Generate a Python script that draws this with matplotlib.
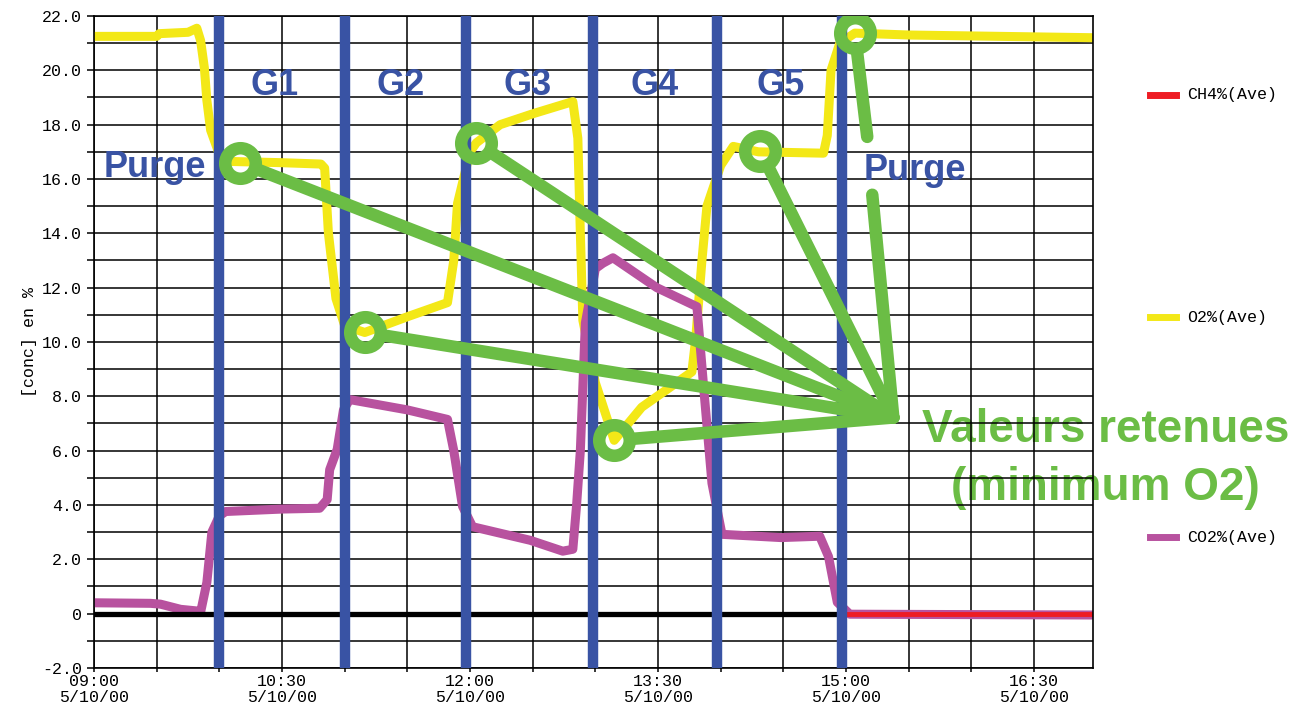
import matplotlib.pyplot as plt
from matplotlib.lines import Line2D
from matplotlib.ticker import FuncFormatter, MultipleLocator

# --- data (time in decimal hours on 5/10/00, concentrations in %)
o2_t = [9.0, 9.5, 9.52, 9.75, 9.82, 9.85, 9.88, 9.90, 9.93, 10.0, 10.05, 10.5,
        10.81, 10.84, 10.87, 10.93, 11.0, 11.16, 11.5, 11.82, 11.87, 11.90, 12.0,
        12.05, 12.24, 12.5, 12.82, 12.86, 12.88, 12.90, 13.0, 13.15, 13.37, 13.77,
        13.80, 13.85, 13.89, 14.0, 14.1, 14.3, 14.82, 14.85, 14.88, 14.95, 15.07,
        15.5, 16.97]
o2_v = [21.25, 21.25, 21.35, 21.4, 21.55, 21.1, 20.1, 18.9, 17.8, 16.9, 16.65,
        16.6, 16.55, 16.4, 14.0, 11.6, 10.6, 10.35, 10.93, 11.45, 13.0, 15.1, 17.0,
        17.33, 18.0, 18.4, 18.85, 17.5, 14.0, 10.8, 8.5, 6.38, 7.6, 8.9, 10.1,
        13.0, 15.0, 16.5, 17.2, 17.0, 16.95, 17.6, 20.0, 21.0, 21.37, 21.3, 21.2]

co2_t = [9.0, 9.45, 9.53, 9.69, 9.82, 9.85, 9.90, 9.94, 10.0, 10.05, 10.5, 10.80,
         10.86, 10.88, 10.94, 10.99, 11.04, 11.5, 11.82, 11.87, 11.94, 12.02,
         12.48, 12.74, 12.82, 12.85, 12.88, 12.92, 13.0, 13.06, 13.14, 13.49,
         13.81, 13.87, 13.93, 14.01, 14.48, 14.79, 14.86, 14.93, 15.03, 16.97]
co2_v = [0.4, 0.38, 0.35, 0.16, 0.1, 0.05, 1.15, 3.0, 3.6, 3.76, 3.85, 3.88, 4.2,
         5.3, 6.05, 7.5, 7.88, 7.5, 7.15, 6.0, 3.95, 3.2, 2.7, 2.3, 2.37, 4.0, 6.0,
         10.7, 12.7, 12.9, 13.1, 12.0, 11.3, 8.0, 4.8, 2.92, 2.8, 2.85, 2.1, 0.42,
         -0.02, -0.05]

ch4_t = [9.0, 16.97]
ch4_v = [0.0, 0.0]
# black baseline trace drawn over CH4 until the end of G5
base_t = [9.0, 14.97]
base_v = [0.0, 0.0]

# gas switch times (blue bars) and group labels
switch_t = [10.0, 11.0, 11.97, 12.98, 13.97, 14.97]
group_names = ["G1", "G2", "G3", "G4", "G5"]
group_t = [10.44, 11.45, 12.46, 13.47, 14.48]

# retained values (minimum O2) and where the arrows meet
picked_t = [10.165, 11.163, 12.05, 13.15, 14.315, 15.07]
picked_v = [16.6, 10.35, 17.33, 6.38, 17.04, 21.37]
meet_t, meet_v = 15.377, 7.22

legend_labels = ["CH4%(Ave)", "O2%(Ave)", "CO2%(Ave)"]

# --- style
yellow = "#f3e817"
magenta = "#b8529f"
red = "#ee1c24"
blue = "#3953a4"
green = "#6bbd45"
mono = "Liberation Mono"
bold = dict(family="Liberation Sans", weight="bold")

fig = plt.figure(figsize=(12.99, 7.11), dpi=100)
ax = fig.add_axes([0.0724, 0.0605, 0.7690, 0.9170])

ax.plot(o2_t, o2_v, color=yellow, lw=6.5, zorder=2)
ax.plot(co2_t, co2_v, color=magenta, lw=6.5, zorder=2.1)
ax.plot(ch4_t, ch4_v, color=red, lw=3.5, zorder=2.2)
ax.plot(base_t, base_v, color="black", lw=3.8, zorder=2.3)

for t in switch_t:
    ax.axvline(t, color=blue, lw=7.5, zorder=3)

for name, t in zip(group_names, group_t):
    ax.text(t, 19.1, name, color=blue, fontsize=26, ha="center", va="baseline",
            zorder=4, **bold)
ax.text(9.487, 16.08, "Purge", color=blue, fontsize=26, ha="center",
        va="baseline", zorder=4, **bold)
ax.text(15.552, 15.97, "Purge", color=blue, fontsize=26, ha="center",
        va="baseline", zorder=4, **bold)

# green markup
ax.plot(picked_t, picked_v, "o", ms=22, mfc="none", mec=green, mew=9, zorder=6)
for t, v in zip(picked_t[:5], picked_v[:5]):
    ax.annotate("", xy=(meet_t, meet_v), xytext=(t, v),
                arrowprops=dict(arrowstyle="-", color=green, lw=9, shrinkA=15,
                                shrinkB=0, capstyle="round"), zorder=5)
ax.annotate("", xy=(15.169, 17.55), xytext=(picked_t[5], picked_v[5]),
            arrowprops=dict(arrowstyle="-", color=green, lw=9, shrinkA=15,
                            shrinkB=0, capstyle="round"), zorder=5)
ax.annotate("", xy=(meet_t, meet_v), xytext=(15.209, 15.42),
            arrowprops=dict(arrowstyle="-", color=green, lw=9, shrinkA=0,
                            shrinkB=0, capstyle="round"), zorder=5)
ax.text(17.07, 5.7, "Valeurs retenues\n(minimum O2)", color=green, fontsize=33,
        ha="center", va="center", linespacing=1.4, clip_on=False, zorder=0.3,
        **bold)

# --- axes
ax.set_xlim(9.0, 16.97)
ax.set_ylim(-2.0, 22.0)
ax.xaxis.set_major_locator(MultipleLocator(1.5))
ax.xaxis.set_minor_locator(MultipleLocator(0.5))
ax.yaxis.set_major_locator(MultipleLocator(2.0))
ax.yaxis.set_minor_locator(MultipleLocator(1.0))
ax.xaxis.set_major_formatter(FuncFormatter(
    lambda h, p: f"{int(h):02d}:{int(round((h % 1) * 60)):02d}\n5/10/00"))
ax.yaxis.set_major_formatter(FuncFormatter(
    lambda v, p: "0" if abs(v) < 1e-9 else f"{v:.1f}"))
ax.grid(which="both", color="black", lw=1.1)
ax.set_axisbelow(True)
ax.tick_params(which="both", direction="out", length=5, width=1.1, color="black")
ax.tick_params(axis="x", which="both", length=3, pad=1)
ax.tick_params(axis="y", which="minor", labelleft=False)
for lab in ax.get_xticklabels() + ax.get_yticklabels():
    lab.set_family(mono)
    lab.set_fontsize(12)
for lab in ax.get_xticklabels():
    lab.set_linespacing(1.1)
for s in ax.spines.values():
    s.set_linewidth(1.2)
ax.set_ylabel("[conc] en %", family=mono, fontsize=12, labelpad=4)

# --- legend on the right, one entry per series
for label, color, y in zip(legend_labels, [red, yellow, magenta],
                           [0.8664, 0.5541, 0.2447]):
    fig.add_artist(Line2D([0.8853, 0.9053], [y, y], color=color, lw=5,
                          transform=fig.transFigure))
    fig.text(0.9138, y, label, family=mono, fontsize=12, va="center")

fig.savefig("out.png", dpi=100)
